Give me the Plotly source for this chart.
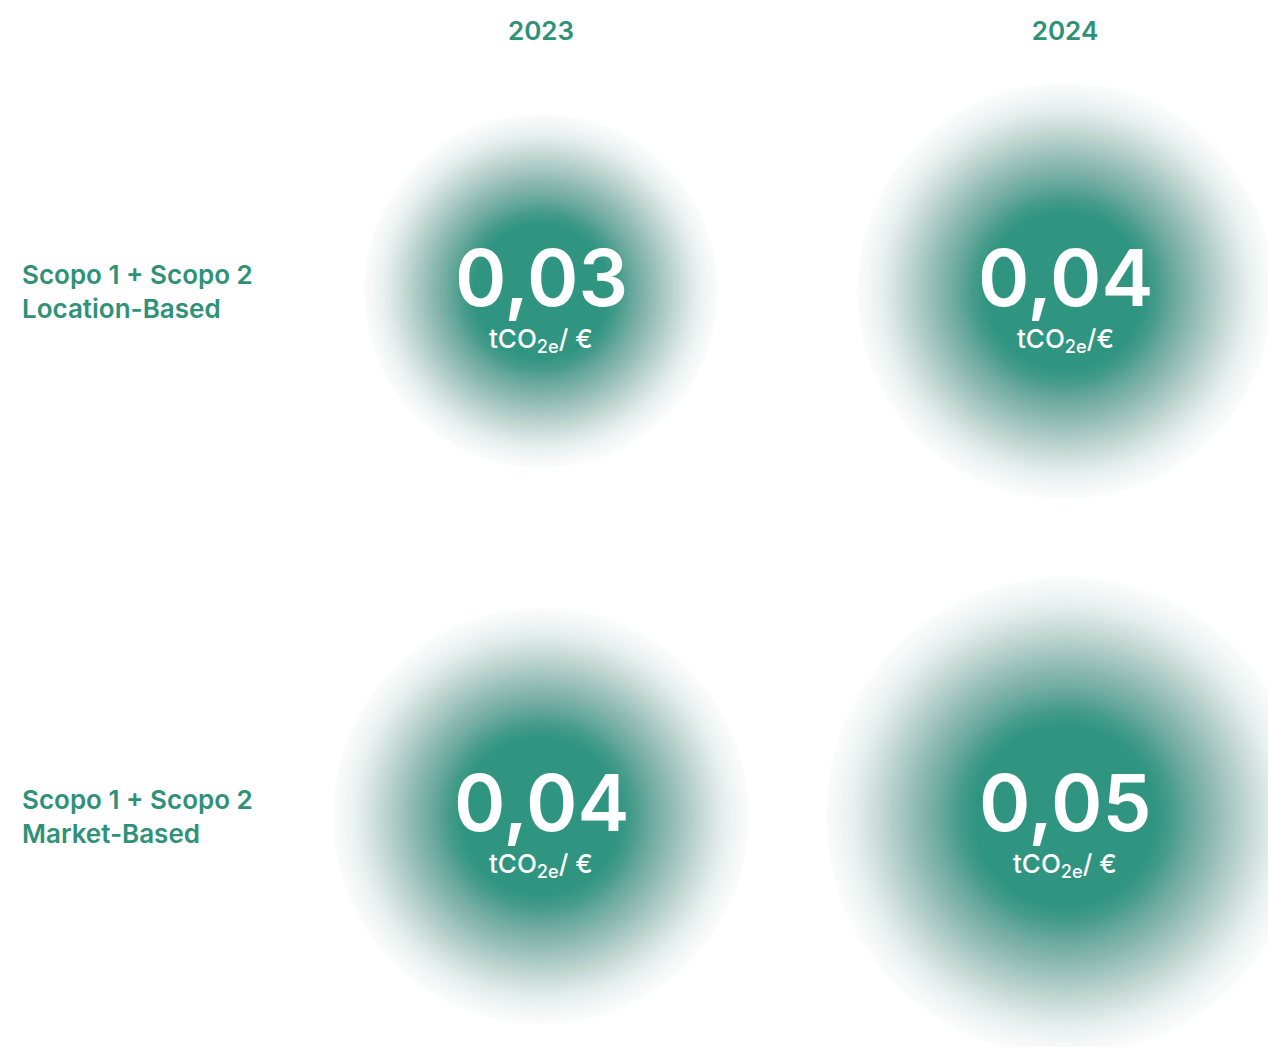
import numpy as np
import plotly.graph_objects as go

# ---------------- data ----------------
YEARS = ["2023", "2024"]
ROWS = ["Location-Based", "Market-Based"]
ROW_LABELS = ["Scopo 1 + Scopo 2<br>Location-Based", "Scopo 1 + Scopo 2<br>Market-Based"]
VALUES_2023 = [0.03, 0.04]   # Location-Based, Market-Based
VALUES_2024 = [0.04, 0.05]
UNITS_2023 = ["tCO<sub>2e</sub>/ €", "tCO<sub>2e</sub>/ €"]
UNITS_2024 = ["tCO<sub>2e</sub>/€", "tCO<sub>2e</sub>/ €"]

# ---------------- style ----------------
GREEN = "#2e9178"
TEAL = np.array([46, 149, 128])
OUTER = np.array([100, 156, 140])
SIZE_BASE, SIZE_SCALE = 168, 6200      # bubble diameter (px) = base + scale * value
FONT = "Inter"

xs, xi, ys, vals, units = [], [], [], [], []
for ri, row in enumerate(ROWS):
    for yi, year in enumerate(YEARS):
        xs.append(year)
        xi.append(yi)
        ys.append(row)
        v = (VALUES_2023 if yi == 0 else VALUES_2024)[ri]
        vals.append(v)
        units.append((UNITS_2023 if yi == 0 else UNITS_2024)[ri])
diam = np.array([SIZE_BASE + SIZE_SCALE * v for v in vals])

fig = go.Figure()

# soft radial gradient built from concentric translucent markers
N = 64
PF = [0.0, 0.38, 0.45, 0.50, 0.57, 0.65, 0.73, 0.80, 0.90, 0.97, 1.0]
PO = [1.0, 1.00, 0.96, 0.90, 0.80, 0.67, 0.53, 0.39, 0.19, 0.08, 0.045]


def opacity(f):
    return float(np.interp(f, PF, PO))


fracs = np.linspace(1.0, 0.38, N)
prev = 0.0
for k, f in enumerate(fracs):
    O = 1.0 if k == N - 1 else opacity(f)
    a = 1 - (1 - O) / (1 - prev)
    prev = O
    w = min(1.0, max(0.0, (f - 0.45) / 0.45))
    c = TEAL * (1 - w) + OUTER * w
    col = f"rgba({c[0]:.0f},{c[1]:.0f},{c[2]:.0f},{a:.4f})"
    fig.add_trace(go.Scatter(
        x=xs, y=ys, mode="markers",
        marker=dict(size=diam * f, sizemode="diameter", color=col, line=dict(width=0)),
        hoverinfo="skip", showlegend=False,
    ))

annotations = []
for x, y, v, u in zip(xi, ys, vals, units):
    annotations.append(dict(
        x=x, y=y, xref="x", yref="y", text=f"{v:.2f}".replace(".", ","),
        showarrow=False, yshift=14, xanchor="center", yanchor="middle",
        font=dict(family=FONT, size=78, color="white", weight=600),
    ))
    annotations.append(dict(
        x=x, y=y, xref="x", yref="y", text=u,
        showarrow=False, yshift=-49, xanchor="center", yanchor="middle",
        font=dict(family=FONT, size=26, color="white", weight=500),
    ))

for row, lab in zip(ROWS, ROW_LABELS):
    annotations.append(dict(
        x=0, y=row, xref="paper", yref="y", text=lab, align="left",
        showarrow=False, xanchor="left", yanchor="middle", xshift=20,
        font=dict(family=FONT, size=26, color=GREEN, weight=600),
    ))

W, H = 1268, 1047
TOP = 46
# category 0 -> 541 px, category 1 -> 1065 px
dx = 524
xa = -541 / dx
xb = xa + W / dx
# row 0 -> 291 px, row 1 -> 816 px (page coords)
dy = 525
ytop = 0 - (291 - TOP) / dy
ybot = ytop + (H - TOP) / dy

fig.update_layout(
    width=W, height=H,
    margin=dict(l=0, r=0, t=TOP, b=0),
    paper_bgcolor="white", plot_bgcolor="white",
    annotations=annotations,
    xaxis=dict(
        type="category", categoryorder="array", categoryarray=YEARS,
        range=[xa, xb], side="top", showgrid=False, zeroline=False,
        showline=False, ticks="", fixedrange=True,
        tickfont=dict(family=FONT, size=26, color=GREEN, weight=600),
    ),
    yaxis=dict(
        type="category", categoryorder="array", categoryarray=ROWS,
        range=[ybot, ytop], showgrid=False, zeroline=False,
        showline=False, showticklabels=False, ticks="", fixedrange=True,
    ),
)

fig.write_html("out.html")
